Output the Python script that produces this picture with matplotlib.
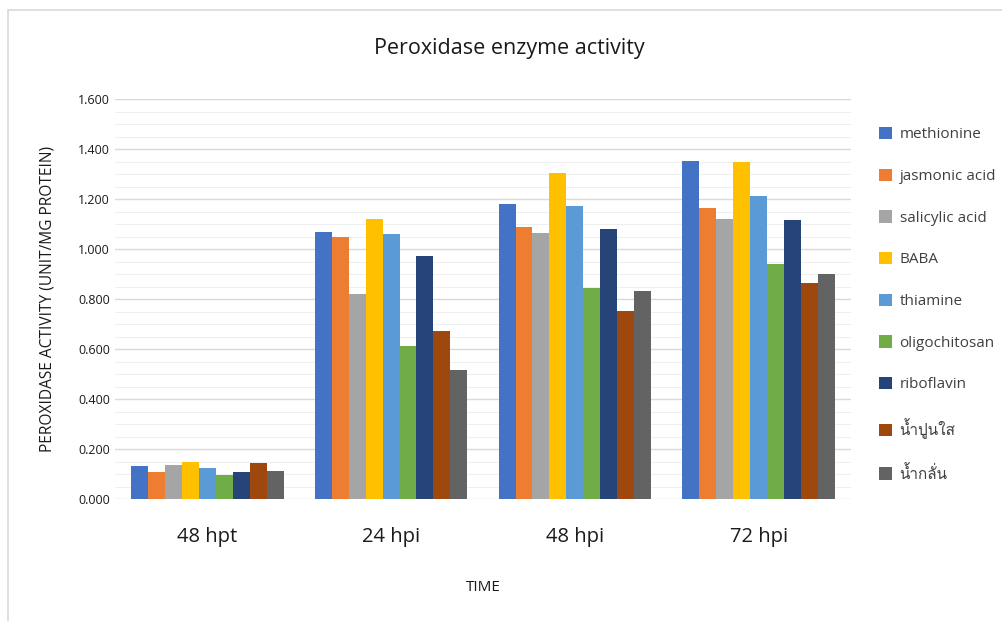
import numpy as np
import matplotlib
matplotlib.use("Agg")
import matplotlib.pyplot as plt
from matplotlib import font_manager
from matplotlib.ft2font import FT2Font
from matplotlib.patches import Rectangle

times = ["48 hpt", "24 hpi", "48 hpi", "72 hpi"]
treatments = ["methionine", "jasmonic acid", "salicylic acid", "BABA", "thiamine",
              "oligochitosan", "riboflavin", "น้ำปูนใส", "น้ำกลั่น"]
methionine = [0.134, 1.070, 1.181, 1.354]
jasmonic = [0.109, 1.050, 1.091, 1.165]
salicylic = [0.139, 0.822, 1.067, 1.122]
baba = [0.151, 1.122, 1.307, 1.349]
thiamine = [0.125, 1.062, 1.174, 1.215]
oligochitosan = [0.098, 0.614, 0.846, 0.943]
riboflavin = [0.109, 0.974, 1.083, 1.118]
limewater = [0.145, 0.674, 0.755, 0.867]
distilled = [0.114, 0.518, 0.835, 0.903]
series = [methionine, jasmonic, salicylic, baba, thiamine,
          oligochitosan, riboflavin, limewater, distilled]
colors = ["#4472C4", "#ED7D31", "#A5A5A5", "#FFC000", "#5B9BD5",
          "#70AD47", "#264478", "#9E480E", "#636363"]

# find some installed font that has Thai glyphs
thai_family = None
for f in font_manager.fontManager.ttflist:
    try:
        cm = FT2Font(f.fname).get_charmap()
    except Exception:
        continue
    if 0x0E19 in cm and 0x0E49 in cm:
        thai_family = f.name
        break
fams = ["Open Sans", "DejaVu Sans"]
if thai_family:
    fams.insert(1, thai_family)
plt.rcParams['font.family'] = fams

fig = plt.figure(figsize=(10.03, 6.21), dpi=100)
fig.patches.append(Rectangle((0.008, -0.05), 1.1, 1.034, transform=fig.transFigure,
                             fill=False, edgecolor="#d9d9d9", linewidth=1.2))
ax = fig.add_axes([0.115, 0.196, 0.733, 0.644])

x = np.arange(len(times))
n = len(series)
width = 0.83 / n
for i, vals in enumerate(series):
    ax.bar(x - 0.415 + width * (i + 0.5), vals, width, color=colors[i],
           label=treatments[i], zorder=3)

ax.set_xlim(-0.5, len(times) - 0.5)
ax.set_ylim(0, 1.6)
ax.set_yticks(np.arange(0, 1.61, 0.2))
ax.set_yticklabels(["%.3f" % v for v in np.arange(0, 1.61, 0.2)], fontsize=9, color="#1a1a1a")
ax.set_yticks(np.arange(0, 1.61, 0.05), minor=True)
ax.set_xticks(x)
ax.set_xticklabels(times, fontsize=14.5, color="#1a1a1a")
ax.grid(axis="y", which="major", color="#d9d9d9", linewidth=1.0, zorder=0)
ax.grid(axis="y", which="minor", color="#efefef", linewidth=0.8, zorder=0)
ax.tick_params(axis="both", which="both", length=0)
ax.tick_params(axis="y", pad=4)
ax.tick_params(axis="x", pad=20)
for s in ax.spines.values():
    s.set_visible(False)

fig.text(0.508, 0.922, "Peroxidase enzyme activity", fontsize=15.5, color="#1a1a1a",
         ha="center", va="center")
ax.set_ylabel("PEROXIDASE ACTIVITY (UNIT/MG PROTEIN)", fontsize=11.2, color="#1a1a1a", labelpad=16)
ax.set_xlabel("TIME", fontsize=11, color="#1a1a1a", labelpad=24)

ax.legend(loc="upper left", bbox_to_anchor=(1.02, 0.965), frameon=False, fontsize=11,
          labelspacing=1.72, handlelength=0.85, handleheight=0.85, handletextpad=0.5,
          labelcolor="#404040")

fig.savefig("out.png", dpi=100)
